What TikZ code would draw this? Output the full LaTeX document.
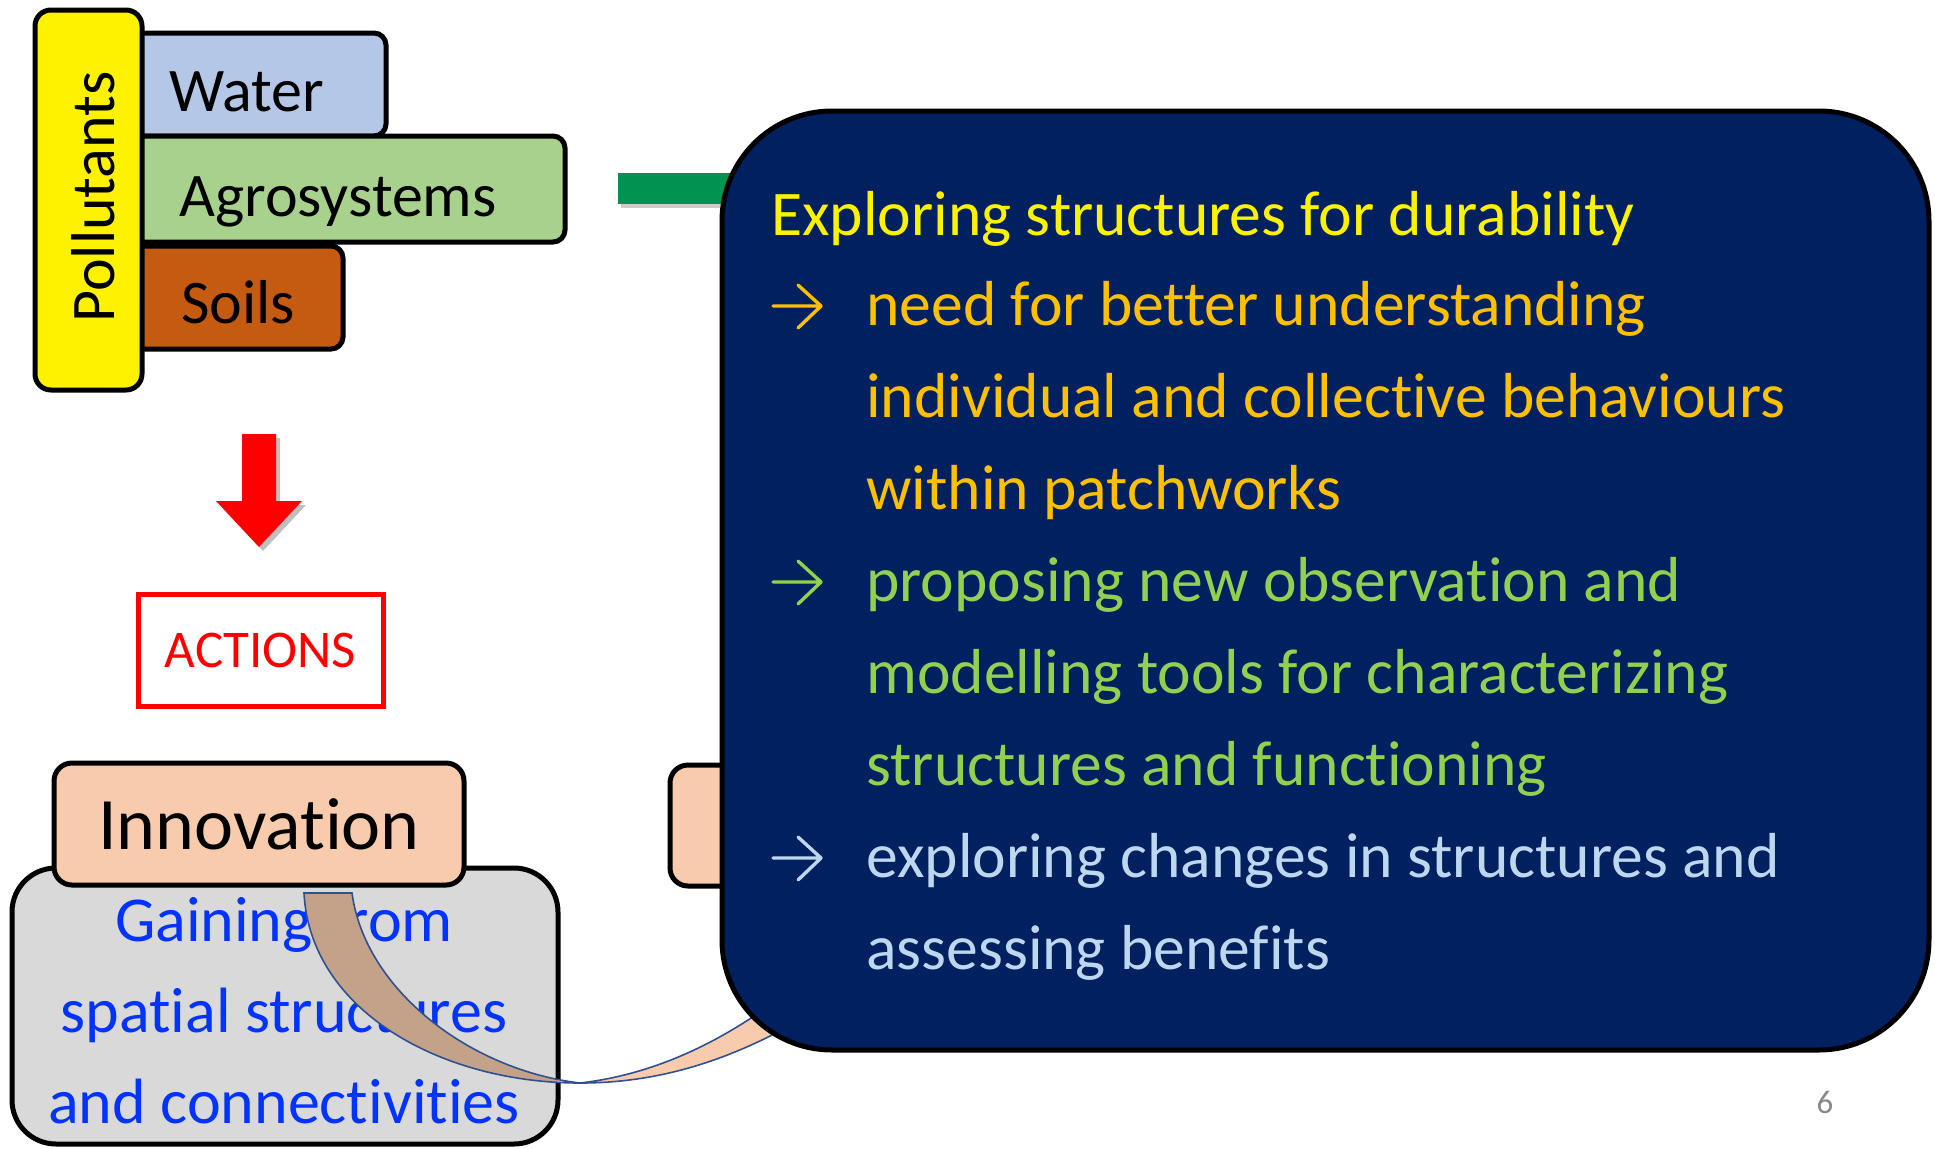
\documentclass[tikz,border=0pt]{standalone}
\usepackage{fontspec}
\setmainfont[Ligatures=NoCommon]{Carlito}
\definecolor{cWater}{RGB}{180,199,231}
\definecolor{cAgro}{RGB}{169,209,142}
\definecolor{cSoil}{RGB}{197,90,17}
\definecolor{cPeach}{RGB}{248,203,173}
\definecolor{cGray}{RGB}{217,217,217}
\definecolor{cNavy}{RGB}{0,32,96}
\definecolor{cOrange}{RGB}{255,192,0}
\definecolor{cLGreen}{RGB}{146,208,80}
\definecolor{cLBlue}{RGB}{189,215,238}
\definecolor{cBlueTxt}{RGB}{0,51,255}
\definecolor{cTan}{RGB}{196,161,137}
\definecolor{cRibLine}{RGB}{47,82,143}
\definecolor{cGreenBar}{RGB}{0,146,80}
\definecolor{cPage}{RGB}{137,137,137}
\begin{document}
\begin{tikzpicture}[x=0.5pt,y=-0.5pt,
  every node/.style={inner sep=0pt},
  lbl/.style={font=\fontsize{31}{37}\selectfont, anchor=base west},
  big/.style={font=\fontsize{31.8}{38}\selectfont, anchor=base west},
  box/.style={draw=black, line width=2.5pt, rounded corners=6pt},
  ribline/.style={draw=cRibLine, line width=0.8pt},
  bularrow/.pic={\draw[line width=1.7pt, line cap=round, line join=round]
      (0,0) -- (48,0) (25,-21) -- (48,0) -- (25,22);}]
\useasboundingbox (0,0) rectangle (1935,1148);

% --- top-left stack
\path[box, fill=cWater] (110,33) rectangle (386,136);
\path[box, fill=cSoil] (110,246) rectangle (343,349);
\path[box, fill=cAgro] (110,136) rectangle (565,242);
\path[box, fill=yellow, rounded corners=8pt] (35,10) rectangle (142,390);
\node[lbl] (water) at (169,111) {Water};
\node[lbl] (agro) at (179,216) {Agrosystems};
\node[lbl] (soils) at (181,323) {Soils};
\node[lbl, rotate=90] (poll) at (114,323) {Pollutants};

% --- red arrow
\fill[black, opacity=0.25] (246,438) -- (280,438) -- (280,505) -- (306,505) -- (263,551) -- (220,505) -- (246,505) -- cycle;
\fill[red] (242,434) -- (276,434) -- (276,501) -- (302,501) -- (259,547) -- (216,501) -- (242,501) -- cycle;

% --- actions
\node[draw=red, line width=2.5pt, minimum width=122.5pt, minimum height=56pt,
      font=\fontsize{26.5}{31}\selectfont, text=red] (actions) at (260.5,650) {ACTIONS};

% --- gray box + innovation
\path[draw=black, line width=2.5pt, fill=cGray, rounded corners=22pt] (12,868) rectangle (558,1144);
\node[draw=black, line width=2.5pt, fill=cPeach, rounded corners=9pt,
      minimum width=205pt, minimum height=61pt,
      font=\fontsize{37}{44}\selectfont] (innov) at (259,824) {Innovation};
\node[font=\fontsize{32}{38}\selectfont, text=cBlueTxt, anchor=base] (g1) at (284,941) {Gaining from};
\node[font=\fontsize{32}{38}\selectfont, text=cBlueTxt, anchor=base] (g2) at (284,1032) {spatial structures};
\node[font=\fontsize{32}{38}\selectfont, text=cBlueTxt, anchor=base] (g3) at (284,1123) {and connectivities};

% --- ribbon
\fill[cPeach] (304,893) .. controls (310,1010) and (440,1083) .. (580,1083)
   .. controls (470,1070) and (365,990) .. (352,893) -- cycle;
\begin{scope}
\clip[rounded corners=22pt] (12,868) rectangle (558,1144);
\fill[cTan] (304,893) .. controls (310,1010) and (440,1083) .. (580,1083)
   .. controls (470,1070) and (365,990) .. (352,893) -- cycle;
\end{scope}
\draw[ribline] (304,893) .. controls (310,1010) and (440,1083) .. (580,1083)
   .. controls (470,1070) and (365,990) .. (352,893) -- cycle;
\path[fill=cPeach, ribline] (580,1083) .. controls (660,1083) and (730,1060) .. (800,1020)
   -- (790,990) .. controls (720,1045) and (650,1075) .. (580,1083) -- cycle;

% --- hidden peach box and green bar
\path[draw=black, line width=2.5pt, fill=cPeach, rounded corners=9pt] (670,765) rectangle (820,886);
\fill[black, opacity=0.2] (621,177) rectangle (763,208);
\fill[cGreenBar] (618,173) rectangle (760,204);

% --- big navy box
\path[draw=black, line width=2.5pt, fill=cNavy, rounded corners=55pt] (722,111) rectangle (1929,1050);
\node[big, text=yellow] (t0) at (771,235) {Exploring structures for durability};
\pic[color=cOrange] at (773,306) {bularrow};
\node[big, text=cOrange] (t1) at (866,325) {need for better understanding};
\node[big, text=cOrange] (t2) at (866,417) {individual and collective behaviours};
\node[big, text=cOrange] (t3) at (866,509) {within patchworks};
\pic[color=cLGreen] at (773,582) {bularrow};
\node[big, text=cLGreen] (t4) at (866,601) {proposing new observation and};
\node[big, text=cLGreen] (t5) at (866,693) {modelling tools for characterizing};
\node[big, text=cLGreen] (t6) at (866,785) {structures and functioning};
\pic[color=cLBlue] at (773,858) {bularrow};
\node[big, text=cLBlue] (t7) at (866,877) {exploring changes in structures and};
\node[big, text=cLBlue] (t8) at (866,969) {assessing benefits};

\node[font=\fontsize{16.5}{20}\selectfont, text=cPage] (page) at (1825,1102) {6};
\end{tikzpicture}
\end{document}
